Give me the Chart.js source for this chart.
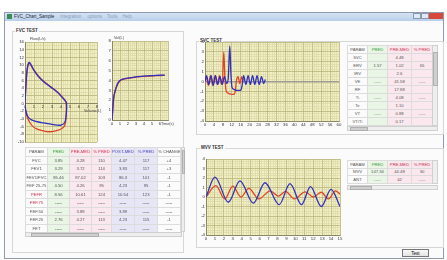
<!DOCTYPE html>
<html>
<head>
<meta charset="utf-8">
<script src="https://cdn.jsdelivr.net/npm/chart.js@4.4.1/dist/chart.umd.min.js"></script>
<style>
html, body { margin: 0; padding: 0; width: 447px; height: 260px; overflow: hidden; background: #fff; font-family: "Liberation Sans", Arial, sans-serif; }
.abs { position: absolute; }
canvas { position: absolute; }
.win { left: 4px; top: 12px; width: 440px; height: 247px; border: 1px solid #8e9bb0; background: #fbfbfb; box-sizing: border-box; }
.titlebar { left: 5px; top: 13px; width: 438px; height: 8px; background: linear-gradient(#d4e3f4, #b9cfe9); }
.ttl { font-size: 4.5px; color: #223; white-space: nowrap; }
.grp { border: 1px solid #d6d6d6; box-sizing: border-box; }
.glabel { font-size: 4.5px; font-weight: bold; color: #333; background: #fbfbfb; padding: 0 1px; }
.axt { font-size: 3.8px; color: #444; white-space: nowrap; }
table { border-collapse: collapse; table-layout: fixed; font-size: 4.2px; color: #555; }
td { border: 0.5px solid #dcdcdc; text-align: center; padding: 0; overflow: hidden; white-space: nowrap; }
.g { background: #e9f6e6; }
.p { background: #fbe8ee; }
.b { background: #e7e6f7; }
.hg { color: #3a9a3a; }
.hr { color: #c8324e; }
.hb { color: #4747b5; }
.sb { background: #eeeeee; border: 0.5px solid #d0d0d0; box-sizing: border-box; }
.thumb { background: #cfcfcf; border: 0.5px solid #b0b0b0; box-sizing: border-box; }
.btn { border: 1px solid #777; background: linear-gradient(#fafafa, #e3e3e3); font-size: 4.5px; text-align: center; line-height: 7px; box-sizing: border-box; }
</style>
</head>
<body>
<div class="abs win"></div>
<div class="abs titlebar"></div>
<div class="abs" style="left:7px;top:14px;width:5px;height:5px;background:#3c8a5a;"></div>
<div class="abs ttl" style="left:14px;top:14px;">FVC_Chart_Sample</div>
<div class="abs ttl" style="left:60px;top:14px;color:#8aa0bb;">Integration &nbsp;&nbsp;&nbsp; options &nbsp;&nbsp; Tools &nbsp;&nbsp; Help</div>
<div class="abs" style="left:413px;top:13px;width:8px;height:6px;border:0.5px solid #8898b0;background:#dfe8f3;box-sizing:border-box;"></div>
<div class="abs" style="left:421px;top:13px;width:8px;height:6px;border:0.5px solid #8898b0;background:#dfe8f3;box-sizing:border-box;"></div>
<div class="abs" style="left:429px;top:13px;width:14px;height:6px;background:#d8483a;"></div>

<!-- group boxes -->
<div class="abs grp" style="left:12px;top:31px;width:172px;height:222px;"></div>
<div class="abs glabel" style="left:15px;top:28px;">FVC TEST</div>
<div class="abs grp" style="left:196px;top:41px;width:248px;height:94px;"></div>
<div class="abs glabel" style="left:199px;top:38px;">SVC TEST</div>
<div class="abs grp" style="left:196px;top:148px;width:248px;height:100px;"></div>
<div class="abs glabel" style="left:200px;top:145px;">MVV TEST</div>

<canvas id="fvChart" width="88" height="108" style="left:12px;top:38px;"></canvas>
<canvas id="vtChart" width="69" height="92" style="left:102px;top:37px;"></canvas>
<canvas id="svcChart" width="150" height="92" style="left:193px;top:38px;"></canvas>
<canvas id="mvvChart" width="150" height="90" style="left:194px;top:155px;"></canvas>

<div class="abs axt" style="left:30px;top:37px;">Flow(L/s)</div>
<div class="abs axt" style="left:84px;top:109px;">Volume(L)</div>
<div class="abs axt" style="left:114px;top:36px;">Vol(L)</div>
<div class="abs axt" style="left:161px;top:122px;">Time(s)</div>

<!-- tables -->
<div class="abs" id="fvcTable" style="left:25px;top:147px;width:155px;"></div>
<div class="abs sb" style="left:25px;top:232px;width:157px;height:5px;"></div>
<div class="abs thumb" style="left:31px;top:232.5px;width:68px;height:4px;"></div>
<div class="abs sb" style="left:181px;top:147px;width:4px;height:85px;"></div>
<div class="abs thumb" style="left:181.5px;top:150px;width:3px;height:24px;"></div>

<div class="abs" id="svcTable" style="left:347px;top:45px;width:85px;"></div>
<div class="abs sb" style="left:432px;top:45px;width:6px;height:81px;"></div>
<div class="abs thumb" style="left:432.5px;top:52px;width:5px;height:34px;"></div>
<div class="abs sb" style="left:347px;top:126px;width:91px;height:5px;"></div>
<div class="abs thumb" style="left:350px;top:126.5px;width:18px;height:4px;"></div>

<div class="abs" id="mvvTable" style="left:347px;top:160px;width:85px;"></div>
<div class="abs sb" style="left:432px;top:160px;width:6px;height:24px;"></div>
<div class="abs sb" style="left:347px;top:185px;width:91px;height:5px;"></div>
<div class="abs thumb" style="left:350px;top:185.5px;width:22px;height:4px;"></div>

<div class="abs btn" style="left:402px;top:249px;width:27px;height:8px;">Test</div>

<script>
// ---- flow-volume loop (volume L, flow L/s) ----
const fvBlueVol  = [0, 0.1, 0.25, 0.45, 0.6, 0.9, 1.3, 1.7, 2.1, 2.5, 2.9, 3.3, 3.7, 4.1, 4.4, 4.6, 4.62, 4.55, 4.4, 4.0, 3.5, 3.0, 2.5, 2.0, 1.5, 1.0, 0.6, 0.3, 0.12, 0.03, 0];
const fvBlueFlow = [0, 4.5, 9.0, 10.7, 10.4, 9.0, 7.6, 6.5, 5.6, 4.9, 4.2, 3.5, 2.7, 1.7, 0.9, 0.2, -1.5, -3.5, -5.0, -5.6, -5.6, -5.4, -5.2, -5.0, -4.8, -4.5, -4.1, -3.3, -2.2, -1.0, 0];
const fvRedVol   = [0, 0.08, 0.22, 0.4, 0.6, 0.9, 1.3, 1.7, 2.1, 2.5, 2.9, 3.3, 3.7, 4.1, 4.4, 4.55, 4.6, 4.55, 4.4, 4.1, 3.6, 3.0, 2.4, 1.8, 1.3, 0.9, 0.55, 0.3, 0.12, 0.03, 0];
const fvRedFlow  = [0, 4.0, 8.5, 10.5, 10.2, 9.0, 7.7, 6.6, 5.7, 5.0, 4.3, 3.6, 2.8, 1.8, 1.0, 0.4, -1.5, -4.0, -5.8, -6.5, -7.0, -7.3, -7.3, -7.0, -6.6, -6.0, -5.0, -3.8, -2.4, -1.1, 0];

// ---- volume-time (s, L) ----
const vtTime   = [0, 0.1, 0.2, 0.4, 0.7, 1.0, 1.4, 2.0, 2.8, 3.6, 4.4, 5.2, 6.0, 6.6];
const vtBlue   = [0, 1.2, 2.2, 3.0, 3.7, 4.0, 4.15, 4.25, 4.35, 4.42, 4.47, 4.5, 4.53, 4.55];
const vtRed    = [0, 1.1, 2.1, 2.9, 3.6, 3.95, 4.12, 4.22, 4.32, 4.4, 4.45, 4.48, 4.5, 4.52];

// ---- SVC (s, L) ----
const svcBlueT = [0, 0.7, 1.7, 2.7, 3.7, 4.7, 5.7, 6.7, 7.7, 8.7, 9.7, 10.4, 11.1, 11.6, 12.1, 13.0, 14.5, 16.0, 16.7, 17.3, 18.3, 19.3, 20.3, 21.3, 22.3, 23.3, 24.3, 25.3, 26.3, 27.0];
const svcBlueV = [0, 0.6, -0.3, 0.6, -0.4, 0.6, -0.3, 0.5, -0.3, 0.5, -0.2, 0.3, 3.6, 0.8, -0.6, -0.8, -0.9, -0.9, -0.3, 0.6, -0.3, 0.6, -0.3, 0.6, -0.3, 0.6, -0.3, 0.5, -0.2, 0.2];
const svcRedT  = [0, 0.5, 1.5, 2.5, 3.5, 4.5, 5.5, 6.5, 7.4, 7.9, 8.4, 8.9, 9.4, 10.5, 12.0, 13.0, 13.6, 14.1, 14.8, 15.6, 16.4, 17.0];
const svcRedV  = [0, 0.5, -0.4, 0.6, -0.4, 0.6, -0.3, 0.6, -0.3, 0.3, 3.0, 0.5, -0.9, -1.2, -1.3, -1.3, -0.9, 0.1, 0.5, -0.2, 0.5, 0];

// ---- MVV (s, L) ----
const mvvBlueT = [0, 1.0, 2.5, 3.8, 5.3, 6.6, 8.2, 9.4, 10.7, 11.7, 12.9, 14.0, 15.0];
const mvvBlueV = [0, 2.1, -0.55, 1.7, -0.65, 1.5, -0.8, 1.4, -0.8, 1.1, -1.0, 0.8, -1.0];
const mvvRedT  = [0, 1.1, 2.1, 3.0, 3.9, 4.8, 5.9, 7.2, 8.1, 8.9, 9.9, 11.1, 12.0, 12.9, 13.7, 14.5, 15.0];
const mvvRedV  = [0, 1.2, -0.2, 1.15, 0.0, 0.9, -0.2, 0.65, 0.1, 0.6, -0.2, 0.55, 0.0, 0.5, -0.2, 0.65, 0.3];

// ---- tables ----
const fvcHead = ['PARAM', 'PRED', 'PRE-MED', '% PRED', 'POST-MED', '% PRED', '% CHANGE'];
const fvcRows = [
    ['FVC', '3.85', '4.28', '110', '4.47', '117', '+4'],
    ['FEV1', '3.29', '3.72', '114', '3.83', '117', '+3'],
    ['FEV1/FVC', '85.46', '87.02', '103', '86.3', '101', '-1'],
    ['FEF 25-75', '4.50', '4.26', '95', '4.23', '95', '-1'],
    ['PEFR', '8.56', '10.61', '124', '10.54', '123', '-1'],
    ['FEF.75', '-----', '-----', '-----', '-----', '-----', '-----'],
    ['FEF.50', '-----', '3.88', '-----', '3.89', '-----', '-----'],
    ['FEF.25', '2.76', '4.27', '113', '4.23', '115', '-1'],
    ['FET', '-----', '-----', '-----', '-----', '-----', '-----']
];
const svcHead = ['PARAM', 'PRED', 'PRE-MED', '% PRED'];
const svcRows = [
    ['SVC', '', '4.48', ''],
    ['ERV', '1.57', '1.02', '65'],
    ['IRV', '', '2.6', ''],
    ['VE', '-----', '41.58', '-----'],
    ['RF', '', '17.88', ''],
    ['Ti', '-----', '4.08', '-----'],
    ['Te', '', '1.10', ''],
    ['VT', '-----', '0.88', '-----'],
    ['VT/Ti', '', '0.17', '']
];
const mvvHead = ['PARAM', 'PRED', 'PRE-MED', '% PRED'];
const mvvRows = [
    ['MVV', '147.34', '44.48', '30'],
    ['ANT', '-----', '42', '-----']
];

const BLUE = '#3030bc';
const RED = '#dc4428';

function pts(xs, ys) {
    return xs.map((x, i) => ({ x: x, y: ys[i] }));
}

function isOn(v, e) {
    return Math.abs(v / e - Math.round(v / e)) < 1e-6;
}

// graph-paper axis: fine grid every `step`, labels + darker line every `labelEvery`
function paperAxis(min, max, step, labelEvery, extra) {
    const zeroBold = extra && extra.zeroBold;
    const hide = (extra && extra.hide) || [];
    const axis = {
        type: 'linear', min: min, max: max,
        border: { display: true, color: '#7c7a58', width: 0.8 },
        grid: {
            drawTicks: false,
            color: c => (zeroBold && c.tick.value === 0) ? '#9c9c94' : (isOn(c.tick.value, labelEvery) ? '#b9b47c' : '#d5d29f'),
            lineWidth: c => (zeroBold && c.tick.value === 0) ? 1.6 : (isOn(c.tick.value, labelEvery) ? 0.8 : 0.5)
        },
        ticks: {
            stepSize: step, autoSkip: false, maxTicksLimit: 2000, maxRotation: 0, padding: 1,
            color: '#333', font: { size: 4.3, family: 'Liberation Sans' },
            callback: v => (isOn(v, labelEvery) && hide.indexOf(Math.round(v)) < 0) ? String(Math.round(v)) : ''
        }
    };
    if (extra && extra.width) axis.afterFit = s => { s.width = extra.width; };
    if (extra && extra.height) axis.afterFit = s => { s.height = extra.height; };
    if (extra && extra.position) axis.position = extra.position;
    return axis;
}

const paperBg = {
    id: 'paperBg',
    beforeDraw(chart) {
        const { ctx, chartArea: a } = chart;
        ctx.save();
        ctx.fillStyle = '#f2efc3';
        ctx.fillRect(a.left, a.top, a.right - a.left, a.bottom - a.top);
        ctx.restore();
    }
};

function lineSet(data, color, mono) {
    return {
        data: data, borderColor: color, borderWidth: 1.3, pointRadius: 0,
        fill: false, tension: mono ? 0 : 0.35,
        cubicInterpolationMode: mono ? 'monotone' : 'default'
    };
}

function makeChart(id, datasets, xAxis, yAxis, padding) {
    return new Chart(document.getElementById(id), {
        type: 'line',
        data: { datasets: datasets },
        options: {
            responsive: false, animation: false, devicePixelRatio: 1,
            layout: { padding: padding },
            plugins: { legend: { display: false }, tooltip: { enabled: false } },
            scales: { x: xAxis, y: yAxis }
        },
        plugins: [paperBg]
    });
}

makeChart('fvChart',
    [lineSet(pts(fvBlueVol, fvBlueFlow), BLUE), lineSet(pts(fvRedVol, fvRedFlow), RED)],
    paperAxis(0, 8, 0.25, 1, { position: { y: 0 } }),
    paperAxis(-10, 16, 1, 2, { width: 13 }),
    { top: 4, right: 3, bottom: 4, left: 0 });

makeChart('vtChart',
    [lineSet(pts(vtTime, vtBlue), BLUE, true), lineSet(pts(vtTime, vtRed), RED, true)],
    paperAxis(0, 7, 0.25, 1, { height: 6, hide: [7] }),
    paperAxis(0, 8, 0.25, 1, { width: 10 }),
    { top: 4, right: 3, bottom: 3, left: 0 });

makeChart('svcChart',
    [lineSet(pts(svcBlueT, svcBlueV), BLUE, true), lineSet(pts(svcRedT, svcRedV), RED, true)],
    paperAxis(0, 60, 1, 4, { height: 6 }),
    paperAxis(-4, 4, 0.25, 1, { width: 12, zeroBold: true }),
    { top: 4, right: 4, bottom: 3, left: 0 });

makeChart('mvvChart',
    [lineSet(pts(mvvBlueT, mvvBlueV), BLUE, true), lineSet(pts(mvvRedT, mvvRedV), RED, true)],
    paperAxis(0, 15, 0.25, 1, { height: 7 }),
    paperAxis(-4, 4, 0.25, 1, { width: 12 }),
    { top: 4, right: 4, bottom: 3, left: 0 });

// tables
function buildTable(id, head, rows, colW, colCls, headCls, rowH) {
    let html = '<table style="width:' + colW.reduce((a, b) => a + b, 0) + 'px">';
    html += '<colgroup>' + colW.map(w => '<col style="width:' + w + 'px">').join('') + '</colgroup>';
    html += '<tr style="height:' + rowH + 'px">' + head.map((h, i) =>
        '<td class="' + colCls[i] + ' ' + headCls[i] + '">' + h + '</td>').join('') + '</tr>';
    rows.forEach(r => {
        html += '<tr style="height:' + rowH + 'px">' + r.map((c, i) => {
            const red = (i === 0 && (r[0] === 'PEFR' || r[0] === 'FEF.75')) ? ' hr' : '';
            return '<td class="' + colCls[i] + red + '">' + c + '</td>';
        }).join('') + '</tr>';
    });
    html += '</table>';
    document.getElementById(id).innerHTML = html;
}

buildTable('fvcTable', fvcHead, fvcRows,
    [22, 22, 22, 20, 23, 23, 23],
    ['', 'g', 'p', 'p', 'b', 'b', ''],
    ['', 'hg', 'hr', 'hr', 'hb', 'hb', ''], 8.5);
buildTable('svcTable', svcHead, svcRows,
    [20, 20, 24, 21],
    ['', 'g', 'p', 'p'],
    ['', 'hg', 'hr', 'hr'], 8);
buildTable('mvvTable', mvvHead, mvvRows,
    [20, 20, 24, 21],
    ['', 'g', 'p', 'p'],
    ['', 'hg', 'hr', 'hr'], 7.5);
</script>
</body>
</html>
